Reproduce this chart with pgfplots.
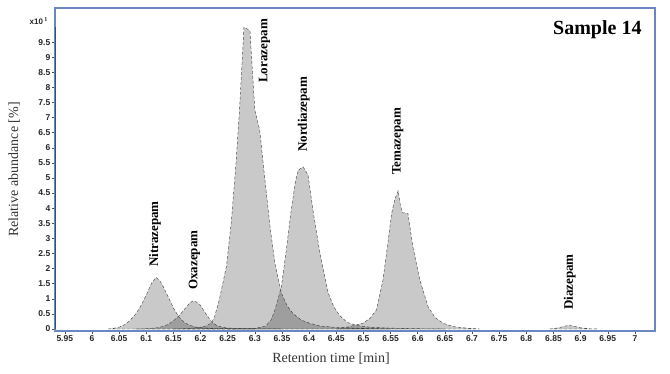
\documentclass[border=0pt]{standalone}
\usepackage{fontspec}
\setmainfont{Liberation Serif}
\setsansfont{Liberation Sans}
\usepackage{pgfplots}
\pgfplotsset{compat=1.18}
\definecolor{frameblue}{RGB}{105,135,195}
\begin{document}
\begin{tikzpicture}
\useasboundingbox (0,0) rectangle (670pt,374pt);
\begin{axis}[
  at={(55pt,43pt)}, anchor=south west,
  scale only axis, width=600pt, height=323pt,
  xmin=5.932, xmax=7.037, ymin=-0.066, ymax=10.63,
  clip mode=individual,
  axis line style={frameblue, line width=1.3pt},
  tick align=outside, tick pos=left,
  major tick length=3pt,
  tick style={black!70, line width=0.5pt},
  /pgf/number format/assume math mode=true,
  ticklabel style={font=\sffamily\bfseries\fontsize{8.5}{9}\selectfont, black!85},
  xtick={5.95,6,6.05,6.1,6.15,6.2,6.25,6.3,6.35,6.4,6.45,6.5,6.55,6.6,6.65,6.7,6.75,6.8,6.85,6.9,6.95,7},
  xticklabels={5.95,6,6.05,6.1,6.15,6.2,6.25,6.3,6.35,6.4,6.45,6.5,6.55,6.6,6.65,6.7,6.75,6.8,6.85,6.9,6.95,7},
  ytick={0,0.5,1,1.5,2,2.5,3,3.5,4,4.5,5,5.5,6,6.5,7,7.5,8,8.5,9,9.5},
  yticklabels={0,0.5,1,1.5,2,2.5,3,3.5,4,4.5,5,5.5,6,6.5,7,7.5,8,8.5,9,9.5},
  xticklabel style={inner sep=1.5pt},
  yticklabel style={inner sep=1.5pt},
  xlabel={Retention time [min]},
  ylabel={Relative abundance [\%]},
  xlabel style={font=\fontsize{14}{16}\selectfont, black!80, at={(axis description cs:0.46,-0.084)}, anchor=center},
  ylabel style={font=\fontsize{14}{16}\selectfont, black!80, at={(axis description cs:-0.068,0.5)}, anchor=center},
  peak/.style={draw=black!70, densely dashed, line width=0.45pt, fill=black, fill opacity=0.21},
]
% Nitrazepam
\addplot[peak] coordinates {
(6.030,0.00) (6.040,0.02) (6.050,0.06) (6.060,0.14) (6.070,0.28) (6.080,0.48)
(6.090,0.76) (6.100,1.12) (6.110,1.52) (6.118,1.71) (6.125,1.60) (6.130,1.45)
(6.140,1.08) (6.150,0.70) (6.160,0.40) (6.170,0.22) (6.180,0.12) (6.190,0.07)
(6.200,0.04) (6.220,0.02) (6.250,0.01) (6.300,0.00)} \closedcycle;
% Oxazepam
\addplot[peak] coordinates {
(6.080,0.00) (6.100,0.01) (6.120,0.04) (6.130,0.08) (6.140,0.15) (6.150,0.27)
(6.160,0.43) (6.170,0.64) (6.180,0.86) (6.186,0.93) (6.192,0.90) (6.200,0.78)
(6.210,0.50) (6.220,0.24) (6.230,0.11) (6.240,0.06) (6.250,0.03) (6.270,0.02)
(6.300,0.01) (6.350,0.00)} \closedcycle;
% Lorazepam
\addplot[peak] coordinates {
(6.150,0.00) (6.180,0.02) (6.200,0.06) (6.210,0.10) (6.220,0.20) (6.226,0.41)
(6.235,1.00) (6.248,2.10) (6.257,3.60) (6.265,5.40) (6.272,7.30) (6.280,10.00)
(6.291,9.88) (6.300,7.25) (6.309,6.59) (6.318,5.04) (6.328,3.39) (6.337,2.17)
(6.349,1.18) (6.360,0.75) (6.370,0.52) (6.385,0.30) (6.401,0.19) (6.420,0.10)
(6.450,0.05) (6.500,0.02) (6.550,0.00)} \closedcycle;
% Nordiazepam
\addplot[peak] coordinates {
(6.250,0.00) (6.300,0.02) (6.320,0.10) (6.330,0.30) (6.337,0.63) (6.349,1.40)
(6.358,2.62) (6.367,3.94) (6.375,4.90) (6.380,5.26) (6.389,5.37) (6.398,5.10)
(6.407,3.94) (6.420,2.50) (6.435,1.20) (6.445,0.75) (6.456,0.45) (6.470,0.22)
(6.487,0.12) (6.500,0.08) (6.520,0.05) (6.550,0.03) (6.600,0.01) (6.650,0.00)} \closedcycle;
% Temazepam
\addplot[peak] coordinates {
(6.450,0.00) (6.475,0.08) (6.499,0.19) (6.512,0.35) (6.524,0.63) (6.536,1.62)
(6.545,2.84) (6.552,3.83) (6.558,4.30) (6.564,4.58) (6.568,4.10) (6.572,3.85)
(6.582,3.83) (6.591,2.73) (6.604,1.62) (6.619,0.74) (6.632,0.38) (6.647,0.19)
(6.665,0.08) (6.690,0.03) (6.714,0.00)} \closedcycle;
% Diazepam
\addplot[peak] coordinates {
(6.843,0.00) (6.860,0.04) (6.870,0.09) (6.878,0.12) (6.888,0.09) (6.900,0.04)
(6.915,0.01) (6.932,0.00)} \closedcycle;
% y axis dark line
\draw[black!70, line width=1pt] (axis cs:5.932,0) -- (axis cs:5.932,10);
% labels
\begin{scope}[every node/.style={font=\bfseries\fontsize{13}{15}\selectfont, rotate=90, anchor=west, inner sep=0pt}]
\node at (axis cs:6.116,2.05) {Nitrazepam};
\node at (axis cs:6.189,1.29) {Oxazepam};
\node at (axis cs:6.318,8.15) {Lorazepam};
\node at (axis cs:6.390,5.86) {Nordiazepam};
\node at (axis cs:6.563,5.10) {Temazepam};
\node at (axis cs:6.880,0.63) {Diazepam};
\end{scope}
\node[font=\bfseries\fontsize{20}{22}\selectfont, anchor=east, inner sep=0pt] at (axis cs:7.0126,9.9) {Sample 14};
\node[font=\sffamily\bfseries\fontsize{8}{9}\selectfont, anchor=east, inner sep=0pt, black!85] at (axis cs:5.932,10.2) [xshift=-7pt] {x10\,$^{\mathbf{1}}$};
\end{axis}
\end{tikzpicture}
\end{document}
